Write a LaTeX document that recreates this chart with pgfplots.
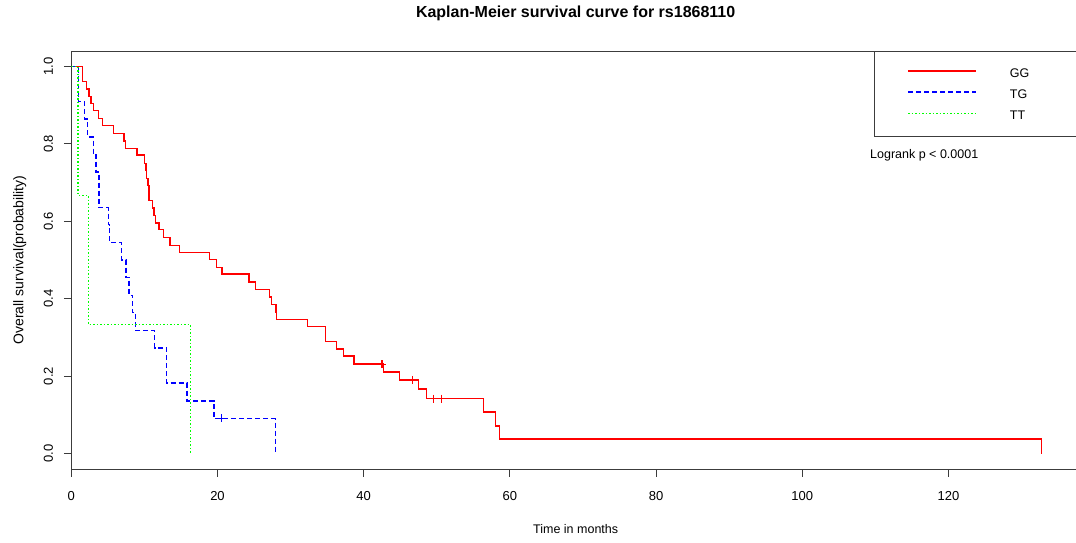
\documentclass[border=0pt]{standalone}
\usepackage{fontspec}
\setmainfont{Liberation Sans}
\usepackage{pgfplots}
\pgfplotsset{compat=1.18}
\definecolor{axgray}{RGB}{60,60,60}
\definecolor{kmred}{RGB}{255,0,0}
\definecolor{kmblue}{RGB}{0,0,255}
\definecolor{kmgreen}{RGB}{0,255,0}
\pgfplotsset{legend image code/.code={\draw[#1] (0pt,2pt) -- (68pt,2pt);}}
\begin{document}
\begin{tikzpicture}[x=1pt,y=1pt]
\begin{axis}[
  at={(71.3pt,73pt)}, anchor=south west,
  scale only axis, width=1008.7pt, height=418pt,
  xmin=0, xmax=138, ymin=-0.04, ymax=1.04,
  xtick={0,20,40,60,80,100,120},
  ytick={0,0.2,0.4,0.6,0.8,1},
  /pgf/number format/assume math mode=true,
  tick pos=left, tick align=outside,
  major tick length=7.5pt,
  axis line style={draw=axgray, line width=0.9pt},
  every tick/.style={axgray, line width=0.9pt},
  tick label style={font=\fontsize{13}{15}\selectfont},
  xticklabel style={inner sep=0pt, anchor=north, yshift=-14.5pt},
  yticklabel style={/pgf/number format/.cd, fixed, fixed zerofill, precision=1, /tikz/.cd, inner sep=0pt, xshift=-10.5pt, rotate=90, anchor=south},
  title={Kaplan-Meier survival curve for rs1868110},
  title style={at={(axis description cs:0.5,1.0646)}, anchor=base, font=\bfseries\fontsize{16}{19}\selectfont},
  xlabel={Time in months},
  xlabel style={at={(axis description cs:0.5,-0.1538)}, anchor=base, font=\fontsize{12.5}{15}\selectfont},
  ylabel={Overall survival(probability)},
  ylabel style={at={(axis description cs:-0.0474,0.5)}, rotate=0, anchor=base, font=\fontsize{14}{16}\selectfont},
  legend style={at={(axis description cs:0.7958,1)}, anchor=north west,
    draw=axgray, line width=0.9pt, fill=white,
    inner xsep=33pt, inner ysep=17pt, row sep=12.2pt, column sep=33pt,
    font=\fontsize{12.5}{14}\selectfont,
    nodes={inner sep=0pt, text height=9pt, text depth=0pt, text width=80pt, align=left}},
  legend cell align=left,
]
\addplot[const plot mark left, draw=kmred, line width=1.4pt] coordinates {
(0,1) (1.5,0.961) (2.1,0.942) (2.4,0.923) (2.7,0.904) (3.0,0.886) (3.7,0.865)
(4.3,0.847) (5.8,0.827) (7.2,0.807) (7.4,0.788) (9.0,0.771) (10.0,0.749)
(10.2,0.732) (10.3,0.711) (10.5,0.692) (10.65,0.653) (11.1,0.634) (11.3,0.615)
(11.5,0.596) (12.0,0.579) (12.6,0.558) (13.5,0.538) (14.8,0.519) (18.9,0.502)
(19.9,0.481) (20.6,0.464) (24.3,0.443) (25.2,0.424) (27.1,0.404) (27.4,0.385)
(28.0,0.365) (28.1,0.347) (32.3,0.328) (34.8,0.290) (36.3,0.270) (37.2,0.252)
(38.7,0.231) (42.7,0.211) (44.9,0.190) (47.5,0.167) (48.6,0.142) (56.4,0.107)
(58.0,0.071) (58.6,0.038) (132.7,0)
};
\addlegendentry{GG}
\addplot[const plot mark left, draw=kmblue, line width=1.4pt, dash pattern=on 5pt off 3pt] coordinates {
(0,1) (0.95,0.909) (1.8,0.864) (2.2,0.818) (3.0,0.773) (3.4,0.727) (3.8,0.636)
(5.05,0.591) (5.2,0.545) (6.9,0.5) (7.5,0.455) (7.9,0.409) (8.4,0.364)
(8.8,0.318) (11.4,0.273) (13.0,0.182) (15.85,0.136) (19.5,0.091) (27.9,0)
};
\addlegendentry{TG}
\addplot[const plot mark left, draw=kmgreen, line width=1.4pt, dash pattern=on 1.5pt off 2pt] coordinates {
(0,1) (0.9,0.667) (2.36,0.333) (16.3,0)
};
\addlegendentry{TT}
\addplot[only marks, mark=+, mark size=4pt, draw=kmred, line width=1.2pt, forget plot] coordinates {
(42.5,0.231) (46.7,0.190) (49.6,0.142) (50.7,0.142)
};
\addplot[only marks, mark=+, mark size=4pt, draw=kmblue, line width=1.2pt, forget plot] coordinates {
(20.5,0.091)
};
\node[anchor=west, inner sep=0pt, font=\fontsize{12.5}{14}\selectfont] at (axis description cs:0.7918,0.751) {Logrank p < 0.0001};
\end{axis}
\pgfresetboundingbox
\useasboundingbox (0,0) rectangle (1076pt,542pt);
\end{tikzpicture}
\end{document}
